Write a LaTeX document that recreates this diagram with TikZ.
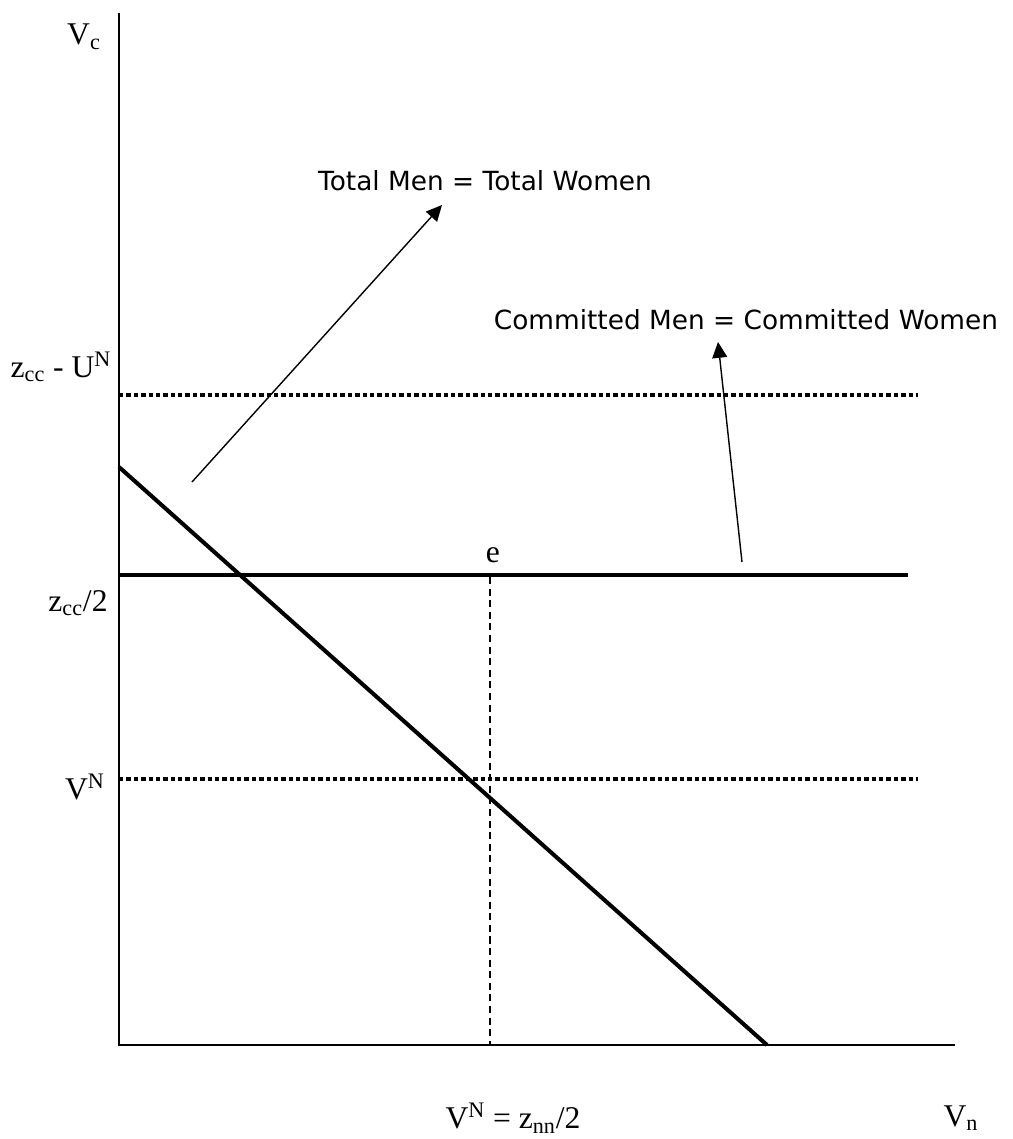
\documentclass[tikz,border=0pt]{standalone}
\usepackage{fontspec}
\setmainfont{Liberation Serif}
\newfontfamily\notefont{DejaVu Sans}
\usetikzlibrary{arrows.meta}
\tikzset{
  axis/.style={line width=1pt},
  curve/.style={line width=2.3pt},
  guide/.style={line width=1.8pt,dash pattern=on 2.5pt off 1.7pt},
  drop/.style={line width=0.9pt,dash pattern=on 4pt off 2.6pt},
  pointer/.style={line width=0.8pt,-{Triangle[length=9pt,width=8.5pt]}},
  lbl/.style={inner sep=0pt,font=\fontsize{18}{20}\selectfont},
  note/.style={inner sep=0pt,font=\notefont\fontsize{15}{18}\selectfont}
}
\begin{document}
\begin{tikzpicture}[x=0.02cm,y=-0.02cm]
\useasboundingbox (0,0) rectangle (1013,1139);
%\draw[help lines,step=100] (0,0) grid (1013,1139);
\coordinate (O)    at (119,1045);
\coordinate (ytop) at (119,13);
\coordinate (xend) at (955,1045);
\draw[axis] (ytop) -- (O) -- (xend);
% labels on the axes
\node[lbl] (vc)   at (84,37)    {V\textsubscript{c}};
\node[lbl] (zu)   at (61,367)   {z\textsubscript{cc} - U\textsuperscript{N}};
\node[lbl] (zh)   at (78,603)   {z\textsubscript{cc}/2};
\node[lbl] (vN)   at (85,787)   {V\textsuperscript{N}};
\node[lbl] (e)    at (493,555)  {e};
\node[lbl] (vzn)  at (513,1118) {V\textsuperscript{N} = z\textsubscript{nn}/2};
\node[lbl] (vn)   at (961,1118) {V\textsubscript{n}};
% lines
\coordinate (u1) at (119,395);  \coordinate (u2) at (918,395);
\coordinate (v1) at (119,779);  \coordinate (v2) at (918,779);
\coordinate (h1) at (119,575);  \coordinate (h2) at (908,575);
\coordinate (a1) at (119,467);  \coordinate (a2) at (767,1045);
\coordinate (e0) at (490,577);  \coordinate (eb) at (490,1045);
\draw[guide] (u1) -- (u2);
\draw[guide] (v1) -- (v2);
\draw[curve] (h1) -- (h2);
\draw[curve] (a1) -- (a2);
\draw[drop]  (e0) -- (eb);
% notes
\node[note] (tot) at (485,181) {Total Men = Total Women};
\node[note] (com) at (746,320) {Committed Men = Committed Women};
\coordinate (t0) at (192,482);  \coordinate (t1) at (442,205);
\coordinate (c0) at (742,562);  \coordinate (c1) at (718,342);
\draw[pointer] (t0) -- (t1);
\draw[pointer] (c0) -- (c1);
\end{tikzpicture}
\end{document}
